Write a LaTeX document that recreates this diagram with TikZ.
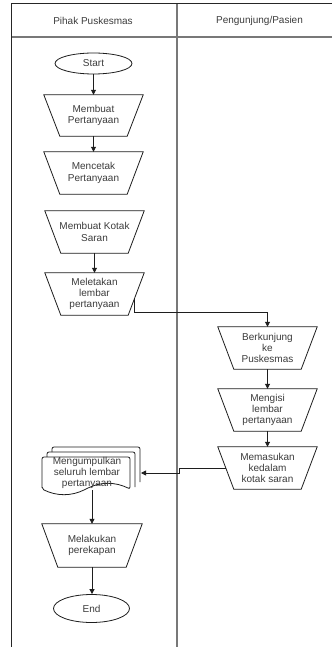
\documentclass[tikz,border=0pt]{standalone}
\usepackage{fontspec}
\setmainfont{Liberation Sans}
\usetikzlibrary{arrows.meta,shapes.geometric}
\definecolor{txt}{RGB}{60,60,60}
\definecolor{lane}{RGB}{120,120,120}
\definecolor{edge}{RGB}{30,30,30}
\newcommand\trapz[1]{\draw[shp] (#1.north west) -- (#1.north east) -- ([xshift=-16pt]#1.south east) -- ([xshift=16pt]#1.south west) -- cycle;}
\begin{document}
\begin{tikzpicture}[x=1pt,y=-1pt,
  lbl/.style={font=\fontsize{10}{11.4}\selectfont, text=txt, align=center, inner sep=0pt},
  trapbox/.style={lbl, minimum width=99pt, minimum height=42pt},
  shp/.style={draw=edge, line width=0.8pt},
  conn/.style={draw=edge, line width=0.8pt, -{Triangle[length=5pt,width=5pt]}},
  oval/.style={lbl, ellipse, draw=edge, line width=0.8pt, inner sep=0pt}
]
\useasboundingbox (0,0) rectangle (332,647);
\fill[white] (0,0) rectangle (332,647);
% swimlanes
\draw[line width=1.2pt, lane] (11,37) -- (332,37);
\draw[line width=1.3pt, lane] (177,4) -- (177,647);
\draw[line width=1pt, black!85] (11,647) -- (11,4) -- (332,4);
\node[lbl] (lane1) at (93,21) {Pihak Puskesmas};
\node[lbl] (lane2) at (259.5,21) {Pengunjung/Pasien};
% left column
\node[oval, minimum width=77pt, minimum height=21pt] (start) at (93.5,63.5) {Start};
\node[trapbox, minimum height=41pt] (t1) at (93.5,115.5) {Membuat\\Pertanyaan};
\trapz{t1}
\node[trapbox] (t2) at (93.5,173) {Mencetak\\Pertanyaan};
\trapz{t2}
\node[trapbox] (t3) at (94.5,232) {Membuat Kotak\\Saran};
\trapz{t3}
\node[trapbox] (t4) at (94.5,294) {Meletakan\\lembar\\pertanyaan};
\trapz{t4}
% right column
\node[trapbox] (r1) at (267.5,348) {Berkunjung\\ke\\Puskesmas};
\trapz{r1}
\node[trapbox] (r2) at (267.5,410) {Mengisi\\lembar\\pertanyaan};
\trapz{r2}
\node[trapbox] (r3) at (267.5,468) {Memasukan\\kedalam\\kotak saran};
\trapz{r3}
% multi document
\draw[shp, rounded corners=2pt] (52,452) -- (52,447) -- (140,447) -- (140,482);
\draw[shp, rounded corners=2pt] (47,457) -- (47,452) -- (135,452) -- (135,487);
\draw[shp, fill=white, rounded corners=2pt] (42,489) -- (42,457) -- (130,457) -- (130,489)
  .. controls (115.3,481.7) and (100.7,481.7) .. (86,489)
  .. controls (71.3,496.3) and (56.7,496.3) .. (42,489) -- cycle;
\node[lbl] (doc) at (87,473) {Mengumpulkan\\seluruh lembar\\pertanyaan};
\coordinate (docin) at (141,473);
\coordinate (docb) at (92,490);
\node[trapbox, minimum width=100pt, minimum height=43pt] (t5) at (92,545.5) {Melakukan\\perekapan};
\trapz{t5}
\node[oval, minimum width=76pt, minimum height=28pt] (end) at (91.5,608.5) {End};
% connectors
\draw[conn] (start) -- (t1);
\draw[conn] (t1) -- (t2);
\draw[conn] (t3) -- (t4);
\coordinate (t4out) at (134.4,298);
\draw[conn] (t4out) -- ++(0,14) -| (r1.north);
\draw[conn] (r1) -- (r2);
\draw[conn] (r2) -- (r3);
\draw[conn] ([xshift=8pt]r3.west) -- (179,468) -- (179,473) -- (docin);
\draw[conn] (docb) -- (docb |- t5.north);
\draw[conn] (t5.south) -- (t5.south |- end.north);
\end{tikzpicture}
\end{document}
